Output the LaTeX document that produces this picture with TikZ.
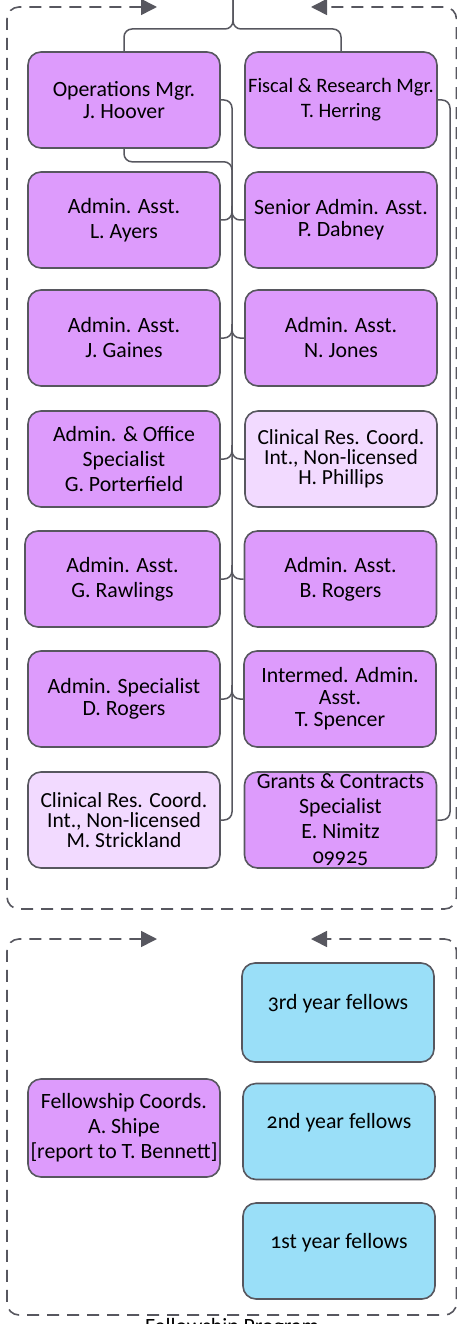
\documentclass[tikz,border=0pt]{standalone}
\usepackage{fontspec}
\setmainfont[Numbers=OldStyle]{Carlito}
\usetikzlibrary{arrows.meta,calc}
\definecolor{staff}{HTML}{DD9BFC}
\definecolor{clinical}{HTML}{F2DAFF}
\definecolor{fellows}{HTML}{9ADFF8}
\definecolor{edge}{HTML}{57575F}
\tikzset{
	box/.style={draw=edge, line width=1.6pt, fill=staff, rounded corners=13pt,
		minimum width=192pt, minimum height=96pt, inner sep=1pt, align=center,
		font=\fontsize{21.8}{25}\selectfont},
	tight/.style={font=\fontsize{21.8}{22}\selectfont},
	pale/.style={fill=clinical, font=\fontsize{21.5}{20}\selectfont},
	fellow/.style={box, fill=fellows, text depth=21pt},
	link/.style={draw=edge, line width=1.5pt, rounded corners=8pt},
	frame/.style={draw=edge, line width=1.6pt, dash pattern=on 12pt off 8pt,
		rounded corners=12pt,
		{Triangle[length=16pt,width=16pt]}-{Triangle[length=16pt,width=16pt]}}
}
\begin{document}
\begin{tikzpicture}[x=1pt, y=-1pt]
					\useasboundingbox (0,0) rectangle (456,1324);
					
					% staff, two columns
					\node [box, tight] (ops) at (124,100) {Operations Mgr.\\J. Hoover};
					\node [box, font=\fontsize{20.5}{25}\selectfont] (fiscal) at (341,100) {Fiscal \& Research Mgr.\\T. Herring};
					\node [box] (ayers) at (124,220) {Admin. Asst.\\L. Ayers};
					\node [box, tight] (dabney) at (341,220) {Senior Admin. Asst.\\P. Dabney};
					\node [box] (gaines) at (124,338) {Admin. Asst.\\J. Gaines};
					\node [box] (jones) at (341,338) {Admin. Asst.\\N. Jones};
					\node [box] (porter) at (124,459) {Admin. \& Office\\Specialist\\G. Porterfield};
					\node [box, pale] (phillips) at (341,459) {Clinical Res. Coord.\\Int., Non-licensed\\H. Phillips};
					\node [box, minimum width=195pt] (rawlings) at (122.5,579) {Admin. Asst.\\G. Rawlings};
					\node [box] (brogers) at (340.5,579) {Admin. Asst.\\B. Rogers};
					\node [box, tight] (drogers) at (124,699) {Admin. Specialist\\D. Rogers};
					\node [box, tight] (spencer) at (340,699) {Intermed. Admin.\\Asst.\\T. Spencer};
					\node [box, pale] (strickland) at (124,820) {Clinical Res. Coord.\\Int., Non-licensed\\M. Strickland};
					\node [box] (nimitz) at (340.5,820) {Grants \& Contracts\\Specialist\\E. Nimitz\\09925};
					
					% lines
					\coordinate (head) at (233,0);
					\coordinate (spine) at (232,0);
					\coordinate (rspine) at (450,0);
					\draw [link] (head) -- ++(0,29) -| (ops.north);
					\draw [link] (head) -- ++(0,29) -| (fiscal.north);
					\draw [link] (ops.east) -| (spine |- strickland.east) -- (strickland.east);
					\draw [link] (ops.south) -- ++(0,13) -| (spine |- ayers.east);
					\foreach \n in {ayers, gaines, porter, rawlings, drogers}
						\draw [link] (\n.east) -| ($(spine |- \n.east)+(0,-14)$);
					\foreach \n in {dabney, jones, phillips, brogers, spencer}
						\draw [link] (\n.west) -| ($(spine |- \n.west)+(0,-14)$);
					\draw [link] (fiscal.east) -| (rspine |- nimitz.east) -- (nimitz.east);
					
					% fellowship
					\node [box, fill=fellows, text depth=21pt, minimum height=99pt] (third) at (338,1012.5) {3rd year fellows};
					\node [fellow] (second) at (339,1131.5) {2nd year fellows};
					\node [fellow] (first) at (339,1251) {1st year fellows};
					\node [box, minimum height=98pt] (shipe) at (124,1128) {Fellowship Coords.\\A. Shipe\\{[}report to T. Bennett{]}};
					
					% dashed frames
					\coordinate (topl) at (157,7);
					\coordinate (topr) at (311,7);
					\coordinate (lowl) at (157,939);
					\coordinate (lowr) at (311,939);
					\draw [frame] (topl) -- (7,7) -- (7,909) -- (456.5,909) -- (456.5,7) -- (topr);
					\draw [frame] (lowl) -- (7,939) -- (7,1315) -- (456.5,1315) -- (456.5,939) -- (lowr);
					\node (progname) [anchor=base, font=\fontsize{21.8}{25}\selectfont] at (232,1333) {Fellowship Program};
				\end{tikzpicture}
\end{document}
